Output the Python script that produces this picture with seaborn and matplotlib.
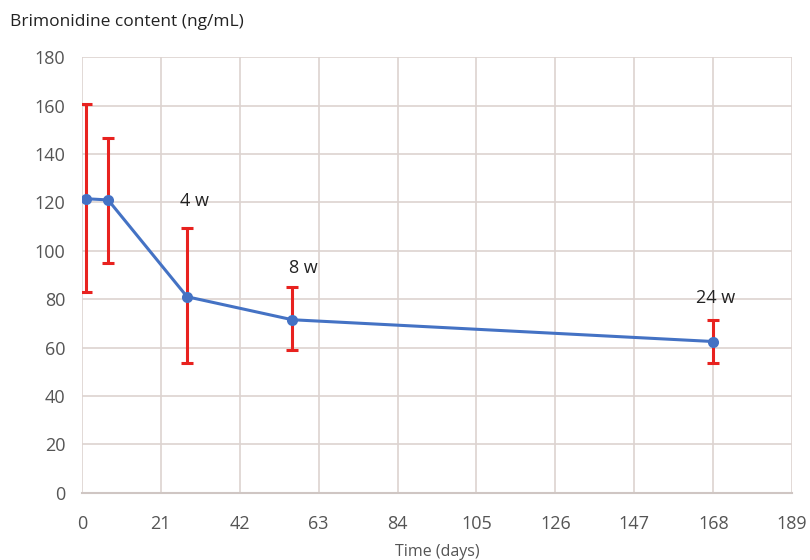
import matplotlib
matplotlib.use("Agg")
import matplotlib.pyplot as plt
import seaborn as sns
import numpy as np
import pandas as pd

days = [1, 7, 28, 56, 168]
content = [121.5, 121, 81, 71.5, 62.5]
err_low = [83, 95, 53.5, 59, 53.5]
err_high = [160.5, 146.5, 109.5, 85, 71.5]
labels = ["", "", "4 w", "8 w", "24 w"]
x_ticks = [0, 21, 42, 63, 84, 105, 126, 147, 168, 189]
y_ticks = [0, 20, 40, 60, 80, 100, 120, 140, 160, 180]

sns.set_theme(style="white")
plt.rcParams['font.family'] = ['Open Sans', 'DejaVu Sans']

df = pd.DataFrame({"day": days, "content": content})

fig = plt.figure(figsize=(8.1, 5.6), dpi=100)
ax = fig.add_axes([0.101, 0.12, 0.877, 0.778])

c = np.array(content)
yerr = np.vstack([c - np.array(err_low), np.array(err_high) - c])
ax.errorbar(days, content, yerr=yerr, fmt="none", ecolor="#e8221f",
            elinewidth=2.2, capsize=4, capthick=2.2, zorder=2)

sns.lineplot(data=df, x="day", y="content", ax=ax, color="#4472c4",
             linewidth=2.2, marker="o", markersize=8, markeredgewidth=0, zorder=3)

offsets = {"4 w": (2, 120.5), "8 w": (3, 93), "24 w": (0.5, 80.5)}
for d, lab in zip(days, labels):
    if lab:
        dx, yy = offsets[lab]
        ax.text(d + dx, yy, lab, ha="center", va="center", fontsize=13, color="#222222")

ax.set_xlim(0, 189)
ax.set_ylim(0, 180)
ax.set_xticks(x_ticks)
ax.set_yticks(y_ticks)
ax.grid(True, color="#ddd3d0", linewidth=1.2)
ax.set_axisbelow(True)
for s in ["top", "right", "left"]:
    ax.spines[s].set_visible(False)
ax.spines["bottom"].set_color("#cfc6c3")
ax.spines["bottom"].set_linewidth(1.5)
ax.tick_params(axis="both", length=0, labelsize=13, labelcolor="#555555")
ax.tick_params(axis="x", pad=16)
ax.tick_params(axis="y", pad=12)
ax.set_xlabel("Time (days)", fontsize=11.5, color="#555555", labelpad=8)
ax.set_ylabel("")
fig.text(0.012, 0.96, "Brimonidine content (ng/mL)", fontsize=12.5, color="#222222",
         ha="left", va="center")

fig.savefig("out.png", dpi=100, facecolor="white")
